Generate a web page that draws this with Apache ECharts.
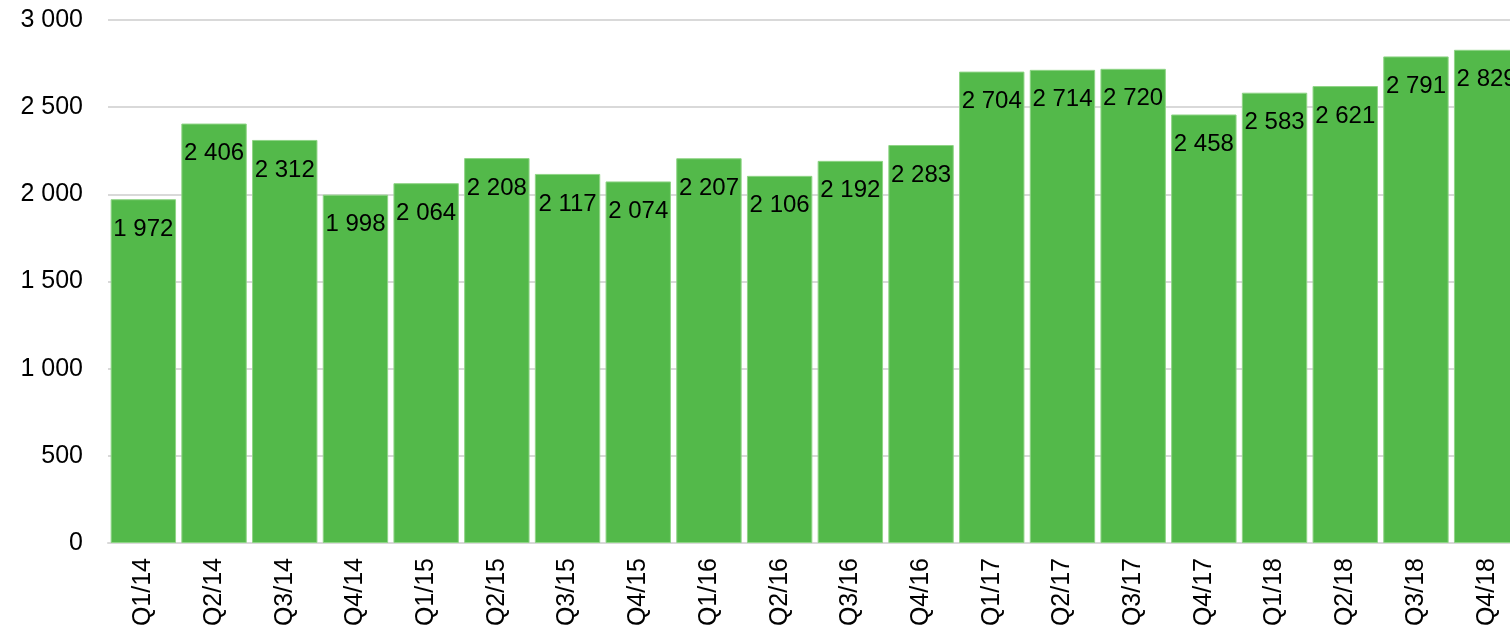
<!DOCTYPE html>
<html>
<head>
<meta charset="utf-8">
<script src="https://cdn.jsdelivr.net/npm/echarts@6/dist/echarts.min.js"></script>
<style>
  html, body { margin: 0; padding: 0; background: #fff; overflow: hidden; }
  /* a bit wider than the window so the last bar gets cut off like the original */
  #chart { width: 1522px; height: 631px; }
</style>
</head>
<body>
<div id="chart"></div>
<script>
const quarters = [
  'Q1/14', 'Q2/14', 'Q3/14', 'Q4/14',
  'Q1/15', 'Q2/15', 'Q3/15', 'Q4/15',
  'Q1/16', 'Q2/16', 'Q3/16', 'Q4/16',
  'Q1/17', 'Q2/17', 'Q3/17', 'Q4/17',
  'Q1/18', 'Q2/18', 'Q3/18', 'Q4/18'
]
const values = [
  1972, 2406, 2312, 1998,
  2064, 2208, 2117, 2074,
  2207, 2106, 2192, 2283,
  2704, 2714, 2720, 2458,
  2583, 2621, 2791, 2829
]
const yTicks = [0, 500, 1000, 1500, 2000, 2500, 3000]

// thousands with a space, like "2 406"
function spaced(n) {
  return String(n).replace(/\B(?=(\d{3})+(?!\d))/g, ' ')
}

const chart = echarts.init(document.getElementById('chart'))
chart.setOption({
  animation: false,
  backgroundColor: '#fff',
  textStyle: { fontFamily: 'Liberation Sans, Arial, sans-serif' },
  grid: { left: 108, right: 0, top: 20, bottom: 88 },
  xAxis: {
    type: 'category',
    data: quarters,
    axisLine: { show: true, lineStyle: { color: '#d9d9d9', width: 2 } },
    axisTick: { show: false },
    axisLabel: { rotate: 90, margin: 15, color: '#000', fontSize: 25, interval: 0 }
  },
  yAxis: {
    type: 'value',
    min: yTicks[0],
    max: yTicks[yTicks.length - 1],
    interval: 500,
    axisLine: { show: false },
    axisTick: { show: false },
    splitLine: { lineStyle: { color: '#d9d9d9', width: 2 } },
    axisLabel: { color: '#000', fontSize: 25, margin: 25, formatter: (v) => spaced(v) }
  },
  series: [
    {
      type: 'bar',
      data: values,
      barCategoryGap: '7.5%',
      itemStyle: { color: '#53b94a', borderColor: '#8fd486', borderWidth: 1 },
      label: {
        show: true,
        position: 'insideTop',
        distance: 18,
        color: '#000',
        fontSize: 24,
        formatter: (p) => spaced(p.value)
      }
    }
  ]
})
</script>
</body>
</html>
